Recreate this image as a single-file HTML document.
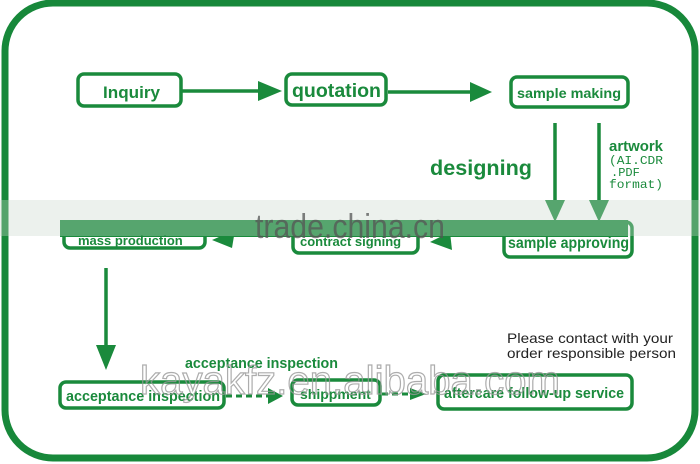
<!DOCTYPE html>
<html><head><meta charset="utf-8"><style>
html,body{margin:0;padding:0;background:#fff;width:700px;height:464px;overflow:hidden}
svg{display:block}
text{font-family:"Liberation Sans",sans-serif;font-weight:bold}
</style></head><body>
<svg width="700" height="464" viewBox="0 0 700 464" xmlns="http://www.w3.org/2000/svg">
<rect x="0" y="0" width="700" height="464" fill="#fff"/>
<rect x="5" y="3" width="690" height="455" rx="48" fill="none" stroke="#17883a" stroke-width="7"/>
<g fill="none" stroke="#1a8a3c" stroke-width="3.5">
<rect x="78" y="74" width="103" height="32" rx="6"/>
<rect x="286" y="74" width="100" height="31" rx="6"/>
<rect x="511" y="77" width="117" height="30" rx="6"/>
<rect x="64" y="222" width="141" height="26" rx="6"/>
<rect x="293" y="222" width="125" height="31" rx="6"/>
<rect x="504" y="222" width="128" height="35" rx="6"/>
<rect x="60" y="382" width="164" height="26" rx="6"/>
<rect x="292" y="380" width="88" height="25" rx="6"/>
<rect x="438" y="375" width="194" height="34" rx="6"/>
</g>
<g stroke="#1a8a3c" stroke-width="3.5">
<line x1="182" y1="91" x2="265" y2="91"/>
<line x1="388" y1="92" x2="475" y2="92"/>
<line x1="555" y1="123" x2="555" y2="205"/>
<line x1="599" y1="123" x2="599" y2="205"/>
<line x1="106" y1="268" x2="106" y2="350"/>
</g>
<g fill="#1a8a3c">
<polygon points="258,81 282,91 258,101"/>
<polygon points="470,82 492,92 470,102"/>
<polygon points="545,200 565,200 555,222"/>
<polygon points="589,200 609,200 599,222"/>
<polygon points="96,345 116,345 106,370"/>
<polygon points="212,240 235,230 232,248"/>
<polygon points="430,242 450,232 452,250"/>
<polygon points="268,388 283,396 268,404"/>
<polygon points="410,388 426,394 410,400"/>
<rect x="60" y="220" width="568" height="17"/>
</g>
<g stroke="#1a8a3c" stroke-width="3" stroke-dasharray="6,4">
<line x1="226" y1="396" x2="270" y2="396"/>
<line x1="382" y1="394" x2="412" y2="394"/>
</g>
<rect x="0" y="200" width="700" height="36" fill="#c8d6cc" opacity="0.35"/>
<g fill="#1a8a3c" lengthAdjust="spacingAndGlyphs">
<text x="103" y="98" font-size="17" textLength="57" lengthAdjust="spacingAndGlyphs">Inquiry</text>
<text x="292" y="97" font-size="19" textLength="89" lengthAdjust="spacingAndGlyphs">quotation</text>
<text x="517" y="98" font-size="14" textLength="104" lengthAdjust="spacingAndGlyphs">sample making</text>
<text x="430" y="175" font-size="21" textLength="102" lengthAdjust="spacingAndGlyphs">designing</text>
<text x="609" y="151" font-size="15" textLength="54" lengthAdjust="spacingAndGlyphs">artwork</text>
<text x="609" y="164" font-size="12" style="font-family:'Liberation Mono',monospace;font-weight:normal" textLength="54" lengthAdjust="spacingAndGlyphs">(AI.CDR</text>
<text x="611" y="176" font-size="12" style="font-family:'Liberation Mono',monospace;font-weight:normal">.PDF</text>
<text x="609" y="188" font-size="12" style="font-family:'Liberation Mono',monospace;font-weight:normal" textLength="54" lengthAdjust="spacingAndGlyphs">format)</text>
<text x="78" y="245" font-size="13">mass production</text>
<text x="300" y="246" font-size="13">contract signing</text>
<text x="508" y="248" font-size="16" textLength="121" lengthAdjust="spacingAndGlyphs">sample approving</text>
<text x="66" y="401" font-size="15" textLength="154" lengthAdjust="spacingAndGlyphs">acceptance inspection</text>
<text x="185" y="368" font-size="15" textLength="153" lengthAdjust="spacingAndGlyphs">acceptance inspection</text>
<text x="300" y="399" font-size="14">shippment</text>
<text x="444" y="398" font-size="15" textLength="180" lengthAdjust="spacingAndGlyphs">aftercare follow-up service</text>
</g>
<text x="507" y="343" font-size="14" fill="#222" style="font-weight:normal" textLength="166" lengthAdjust="spacingAndGlyphs">Please contact with your</text>
<text x="507" y="358" font-size="14" fill="#222" style="font-weight:normal" textLength="169" lengthAdjust="spacingAndGlyphs">order responsible person</text>
<text x="255" y="238" font-size="34" fill="#555" opacity="0.75" style="font-weight:normal" textLength="190" lengthAdjust="spacingAndGlyphs">trade.china.cn</text>
<text x="140" y="394" font-size="40" fill="none" stroke="#999" stroke-width="1.2" opacity="0.8" style="font-weight:normal" textLength="420" lengthAdjust="spacingAndGlyphs">kayakfz.en.alibaba.com</text>
</svg>
</body></html>
